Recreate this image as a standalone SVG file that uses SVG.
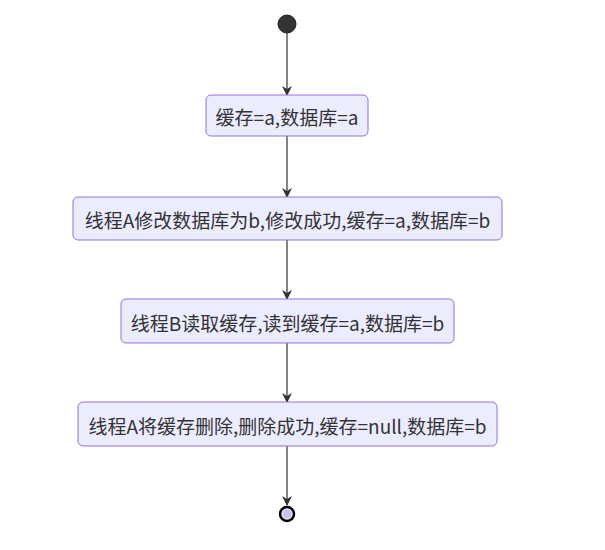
<svg xmlns="http://www.w3.org/2000/svg" width="605" height="550" viewBox="0 0 605 550">
<style>
.node rect{fill:#ECECFF;stroke:#9370DB;stroke-width:1}
.node text{font-family:"Noto Sans CJK SC","Noto Sans",sans-serif;font-size:19px;fill:#333;text-anchor:middle;dominant-baseline:central}
.edge{stroke:#333;stroke-width:1.2;fill:none;marker-end:url(#arr)}
</style>
<defs>
<marker id="arr" viewBox="0 0 10 10" refX="9" refY="5" markerWidth="10" markerHeight="10" markerUnits="userSpaceOnUse" orient="auto">
<path d="M0,0 L10,5 L0,10 L3,5 z" fill="#333"/>
</marker>
</defs>
<rect width="605" height="550" fill="#fff"/>
<g id="connectors">
<line class="edge" x1="287" y1="33" x2="287" y2="95"/>
<line class="edge" x1="287" y1="136" x2="287" y2="197"/>
<line class="edge" x1="287" y1="240" x2="287" y2="299"/>
<line class="edge" x1="287" y1="343" x2="287" y2="402"/>
<line class="edge" x1="287" y1="446" x2="287" y2="505"/>
</g>
<g id="start"><circle cx="287" cy="24" r="9" fill="#333" stroke="#222" stroke-width="1"/></g>
<g id="n1" class="node"><rect x="206" y="95" width="162" height="41" rx="5"/><text x="287" y="116">缓存=a,数据库=a</text></g>
<g id="n2" class="node"><rect x="73" y="197" width="429" height="43" rx="5"/><text x="287.5" y="219">线程A修改数据库为b,修改成功,缓存=a,数据库=b</text></g>
<g id="n3" class="node"><rect x="121" y="299" width="333" height="44" rx="5"/><text x="287.5" y="322">线程B读取缓存,读到缓存=a,数据库=b</text></g>
<g id="n4" class="node"><rect x="78" y="402" width="419" height="44" rx="5"/><text x="287.5" y="425">线程A将缓存删除,删除成功,缓存=null,数据库=b</text></g>
<g id="end"><circle cx="287" cy="514" r="7" fill="#ECECFF" stroke="#000" stroke-width="2.5"/><circle cx="287" cy="514" r="4.5" fill="#C9C3F2"/></g>
</svg>
